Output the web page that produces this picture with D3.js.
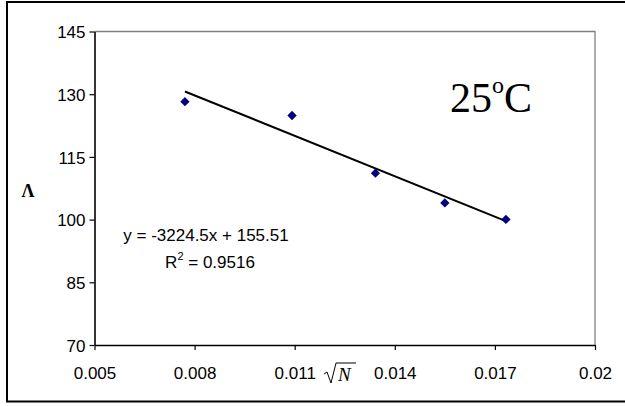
<!DOCTYPE html>
<html>
<head>
<meta charset="utf-8">
<script src="https://cdn.jsdelivr.net/npm/d3@7"></script>
<style>
  body { margin: 0; background: #fff; }
  svg { display: block; }
  .tick text { font-family: Arial, "Liberation Sans", sans-serif; font-size: 17px; fill: #000; }
</style>
</head>
<body>
<svg id="chart" width="625" height="406"></svg>
<script>
// data
const sqrtN = [0.00771, 0.01092, 0.01342, 0.0155, 0.01733];
const lambda = [128.2, 124.9, 111.1, 104.0, 100.05];
const xTicks = [0.005, 0.008, 0.011, 0.014, 0.017, 0.02];
const yTicks = [70, 85, 100, 115, 130, 145];
// trendline as printed on the chart
const slope = -3224.5;
const intercept = 155.51;
const rSquared = 0.9516;

const svg = d3.select('#chart');
const margin = { left: 94.5, top: 31.5, right: 30, bottom: 61 };
const width = 625 - margin.left - margin.right;
const height = 406 - margin.top - margin.bottom;

// outer frame
svg.append('rect')
    .attr('x', 7).attr('y', 2)
    .attr('width', 630).attr('height', 399.5)
    .attr('fill', 'none').attr('stroke', '#000').attr('stroke-width', 2);

const g = svg.append('g').attr('transform', `translate(${margin.left},${margin.top})`);

const x = d3.scaleLinear().domain([0.005, 0.02]).range([0, width]);
const y = d3.scaleLinear().domain([70, 145]).range([height, 0]);

// top and right edges of plot area (grey)
g.append('path')
    .attr('d', `M0,0H${width}V${height}`)
    .attr('fill', 'none').attr('stroke', '#808080').attr('stroke-width', 1.3);

const xAxis = g.append('g')
    .attr('transform', `translate(0,${height})`)
    .call(d3.axisBottom(x).tickValues(xTicks).tickFormat(d => String(d)).tickSize(5).tickSizeOuter(0));
xAxis.selectAll('text').attr('y', 18).attr('dy', '0.95em');

const yAxis = g.append('g')
    .call(d3.axisLeft(y).tickValues(yTicks).tickFormat(d => String(d)).tickSize(5).tickSizeOuter(0));
yAxis.selectAll('text').attr('x', -9).attr('dy', '0.36em');

[xAxis, yAxis].forEach(a => {
    a.select('.domain').attr('stroke', '#000').attr('stroke-width', 1.6);
    a.selectAll('.tick line').attr('stroke', '#000').attr('stroke-width', 1.2);
});

// trend line over the data range
const xMin = d3.min(sqrtN), xMax = d3.max(sqrtN);
g.append('line')
    .attr('x1', x(xMin)).attr('y1', y(slope * xMin + intercept))
    .attr('x2', x(xMax)).attr('y2', y(slope * xMax + intercept))
    .attr('stroke', '#000').attr('stroke-width', 2);

// markers
g.selectAll('.pt')
    .data(sqrtN.map((d, i) => [d, lambda[i]]))
    .enter()
    .append('path')
    .attr('class', 'pt')
    .attr('transform', d => `translate(${x(d[0])},${y(d[1])})`)
    .attr('d', d3.symbol(d3.symbolDiamond2, 55))
    .attr('fill', '#000080');

// equation text
const font = 'Arial, "Liberation Sans", sans-serif';
svg.append('text')
    .attr('x', 206).attr('y', 241)
    .attr('text-anchor', 'middle')
    .style('font-family', font)
    .style('font-size', '17px')
    .text(`y = ${slope}x + ${intercept}`);

const r2 = svg.append('text')
    .attr('x', 210).attr('y', 268)
    .attr('text-anchor', 'middle')
    .style('font-family', font)
    .style('font-size', '17px');
r2.append('tspan').text('R');
r2.append('tspan').attr('dy', -8).style('font-size', '11px').text('2');
r2.append('tspan').attr('dy', 8).text(` = ${rSquared}`);

// temperature label
const t = svg.append('text')
    .attr('x', 450).attr('y', 112)
    .style('font-family', '"Liberation Serif", "Times New Roman", serif')
    .style('font-size', '42px');
t.append('tspan').text('25');
t.append('tspan').attr('dy', -19).style('font-size', '24px').text('o');
t.append('tspan').attr('dy', 19).text('C');

// y axis label
svg.append('text')
    .attr('x', 28).attr('y', 197)
    .attr('text-anchor', 'middle')
    .style('font-family', '"Liberation Serif", "Times New Roman", serif')
    .style('font-size', '18px')
    .style('font-weight', 'bold')
    .text('Λ');

// x axis label: sqrt(N)
const xl = svg.append('g').attr('transform', 'translate(324,365)');
xl.append('path')
    .attr('d', 'M0,9 L3,7 L7,18 L12,-2 L32,-2')
    .attr('fill', 'none').attr('stroke', '#000').attr('stroke-width', 1);
xl.append('text')
    .attr('x', 14).attr('y', 16)
    .style('font-family', '"Liberation Serif", "Times New Roman", serif')
    .style('font-size', '19px')
    .style('font-style', 'italic')
    .text('N');
</script>
</body>
</html>
